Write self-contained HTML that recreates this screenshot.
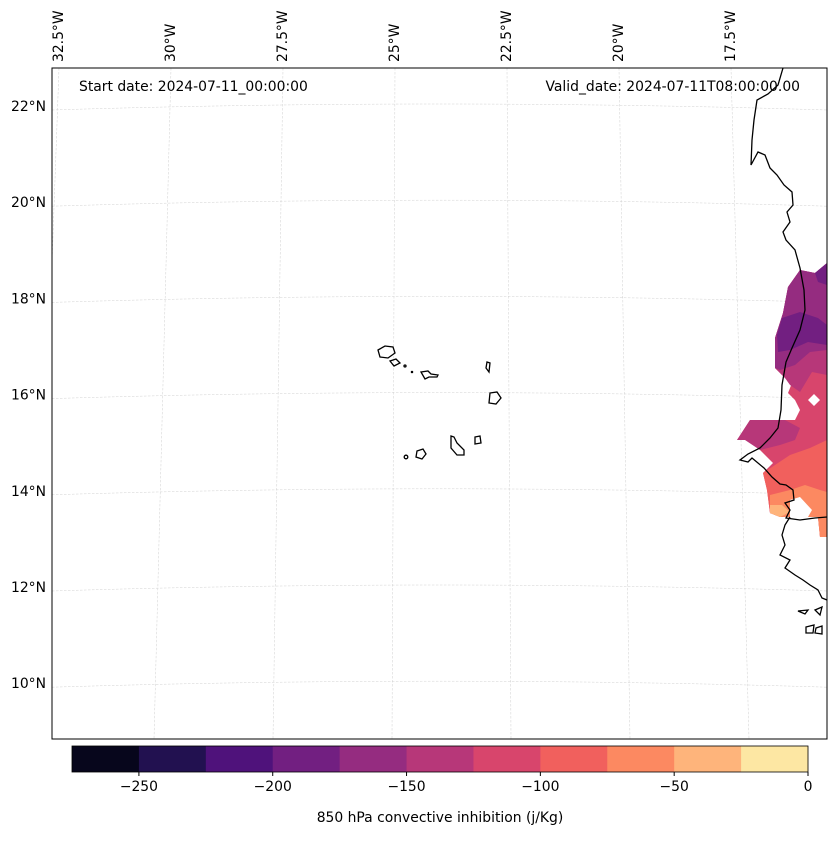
<!DOCTYPE html>
<html><head><meta charset="utf-8"><style>
body{margin:0;background:#fff;}
svg text{font-family:"DejaVu Sans","Liberation Sans",sans-serif;}
</style></head><body>
<svg id="fig" width="837" height="836" viewBox="0 0 837 836" xmlns="http://www.w3.org/2000/svg">
<defs><clipPath id="mapclip"><rect x="52" y="68" width="775" height="671"/></clipPath></defs>
<rect x="0" y="0" width="837" height="836" fill="#fff"/>
<g id="grid" clip-path="url(#mapclip)"></g>
<g clip-path="url(#mapclip)">
 <path fill="#d8456c" d="M800,270 L815,273 L827,263 L827,537 L820,537 L818,517 L780,517 L770,513 L767,490 L763,473 L773,463 L750,440 L737,440 L750,420 L795,420 L800,410 L795,400 L788,393 L792,383 L785,378 L775,368 L775,338 L783,313 L788,287 Z"/>
 <path fill="#b73779" d="M800,270 L815,273 L827,263 L827,375 L812,372 L800,392 L790,385 L785,378 L775,368 L775,338 L783,313 L788,287 Z M750,420 L785,420 L800,428 L795,440 L780,445 L760,450 L745,440 L737,440 Z"/>
 <path fill="#952c80" d="M800,270 L815,273 L827,263 L827,350 L810,352 L795,365 L780,370 L775,368 L775,338 L783,313 L788,287 Z"/>
 <path fill="#721f81" d="M782,318 L800,312 L818,318 L827,325 L827,345 L808,342 L790,350 L778,352 L777,335 Z M815,273 L827,263 L827,285 L818,282 Z"/>
 <path fill="#f1605d" d="M763,473 L775,465 L790,455 L810,448 L827,440 L827,537 L820,537 L818,517 L780,517 L770,513 L767,490 Z"/>
 <path fill="#fc8961" d="M770,495 L790,490 L805,485 L820,490 L827,492 L827,537 L820,537 L818,517 L780,517 L770,513 Z"/>
 <path fill="#feb47b" d="M770,505 L782,505 L790,512 L780,517 L770,513 Z"/>
 <path fill="#fff" d="M814,394 L820,400 L814,406 L808,400 Z M790,500 L800,497 L812,510 L808,517 L790,517 Z"/>
</g>
<g clip-path="url(#mapclip)" fill="none" stroke="#000" stroke-width="1.3">
 <path d="M783,68 L778,85 L768,94 L757,100 L754,120 L752,140 L751,165 L758,152 L765,155 L770,168 L777,175 L784,185 L792,192 L793,205 L787,212 L790,222 L783,232 L786,240 L795,250 L800,268 L804,290 L805,310 L800,330 L792,348 L786,362 L782,385 L781,410 L778,428 L770,438 L760,448 L748,454 L740,460 L748,462 L752,458 L764,468 L772,477 L780,484 L786,485 L793,490 L794,500 L785,503 L790,510 L786,518 L800,520 L815,518 L827,517"/>
 <path d="M790,517 L785,525 L782,535 L785,545 L780,555 L790,560 L785,568 L795,575 L803,580 L810,585 L818,590 L822,598 L827,600"/>
 <path d="M798,611 L808,610 L805,614 Z M815,610 L822,607 L820,615 Z M806,627 L814,625 L813,633 L806,633 Z M816,628 L822,626 L822,634 L815,633 Z"/>
</g>
<g fill="none" stroke="#000" stroke-width="1.3">
 <path d="M378,350 L385,346 L393,347 L395,353 L388,358 L380,357 Z"/>
 <path d="M390,361 L396,359 L400,363 L394,366 Z"/>
 <circle cx="405" cy="366" r="1"/>
 <circle cx="412" cy="372" r="0.6"/>
 <path d="M421,372 L428,371 L431,374 L438,375 L437,377 L429,377 L425,379 Z"/>
 <path d="M487,362 L490,363 L489,372 L486,368 Z"/>
 <path d="M490,393 L497,392 L501,398 L496,404 L489,403 Z"/>
 <path d="M451,436 L454,437 L457,443 L464,450 L464,455 L457,455 L451,448 Z"/>
 <path d="M475,437 L480,436 L481,443 L475,444 Z"/>
 <path d="M417,451 L423,449 L426,454 L422,459 L416,457 Z"/>
 <circle cx="406" cy="457" r="1.8"/>
</g>
<rect x="52" y="68" width="775" height="671" fill="none" stroke="#000" stroke-width="1"/>
<text x="79" y="91" font-size="13.9">Start date: 2024-07-11_00:00:00</text>
<text x="800" y="91" font-size="13.9" text-anchor="end">Valid_date: 2024-07-11T08:00:00.00</text>
<g id="latlabels"></g>
<g id="lonlabels"></g>
<g id="cbar"></g>
<text x="440" y="822" font-size="13.9" text-anchor="middle">850 hPa convective inhibition (j/Kg)</text>
</svg>
<script>
const cbarLevels = [-275,-250,-225,-200,-175,-150,-125,-100,-75,-50,-25,0];
const cbarColors = ["#07061c","#221150","#4f127b","#721f81","#952c80","#b73779","#d8456c","#f1605d","#fc8961","#feb47b","#fde7a3"];
const cbarTicks = [-250,-200,-150,-100,-50,0];
const cbarTickLabels = ["\u2212250","\u2212200","\u2212150","\u2212100","\u221250","0"];
const latValues = [22,20,18,16,14,12,10];
const lonValues = [32.5,30,27.5,25,22.5,20,17.5];
const NS="http://www.w3.org/2000/svg";
function mk(tag,attrs,parent){const e=document.createElementNS(NS,tag);for(const k in attrs)e.setAttribute(k,attrs[k]);parent.appendChild(e);return e;}
const cbX0=72,cbX1=808,cbY=746,cbH=26;
const cx=v=>cbX0+(v-cbarLevels[0])/(cbarLevels[cbarLevels.length-1]-cbarLevels[0])*(cbX1-cbX0);
const cb=document.getElementById('cbar');
for(let i=0;i<cbarColors.length;i++){
 const r=mk('rect',{x:cx(cbarLevels[i]),y:cbY,width:cx(cbarLevels[i+1])-cx(cbarLevels[i])+0.5,height:cbH,fill:cbarColors[i]},cb);
 
 
}
mk('rect',{x:cbX0,y:cbY,width:cbX1-cbX0,height:cbH,fill:'none',stroke:'#000','stroke-width':0.8},cb);
cbarTicks.forEach((t,i)=>{
 mk('line',{x1:cx(t),x2:cx(t),y1:cbY+cbH,y2:cbY+cbH+4,stroke:'#000'},cb);
 const tx=mk('text',{x:cx(t),y:cbY+cbH+19,'font-size':13.9,'text-anchor':'middle'},cb);
 
 
 tx.textContent=cbarTickLabels[i];
});
const latY=lat=>106+(22-lat)*48.1;
const lonXTop=lon=>395-(lon-25)*44.8;
const lonXBot=lon=>392-(lon-25)*47.6;
const grid=document.getElementById('grid');
latValues.forEach(l=>{
 const y=latY(l);
 const p=mk('path',{d:`M52,${y+4} Q440,${y-8} 827,${y+4}`,fill:'none',stroke:'#d0d0d0','stroke-width':0.5,'stroke-dasharray':'2.5,1.5'},grid);
 
 
});
lonValues.forEach(l=>{
 const p=mk('line',{x1:lonXTop(l),y1:68,x2:lonXBot(l),y2:739,stroke:'#d0d0d0','stroke-width':0.5,'stroke-dasharray':'2.5,1.5'},grid);
 
 
});
const latg=document.getElementById('latlabels');
latValues.forEach(l=>{
 const t=mk('text',{x:46,y:latY(l)+5,'font-size':13.9,'text-anchor':'end'},latg);
 
 
 t.textContent=l+'\u00b0N';
});
const long=document.getElementById('lonlabels');
lonValues.forEach(l=>{
 const x=lonXTop(l)+4;
 const t=mk('text',{x:x,y:62,'font-size':13.9,transform:`rotate(-90 ${x} 62)`},long);
 
 
 t.textContent=l+'\u00b0W';
});
</script>
</body></html>
